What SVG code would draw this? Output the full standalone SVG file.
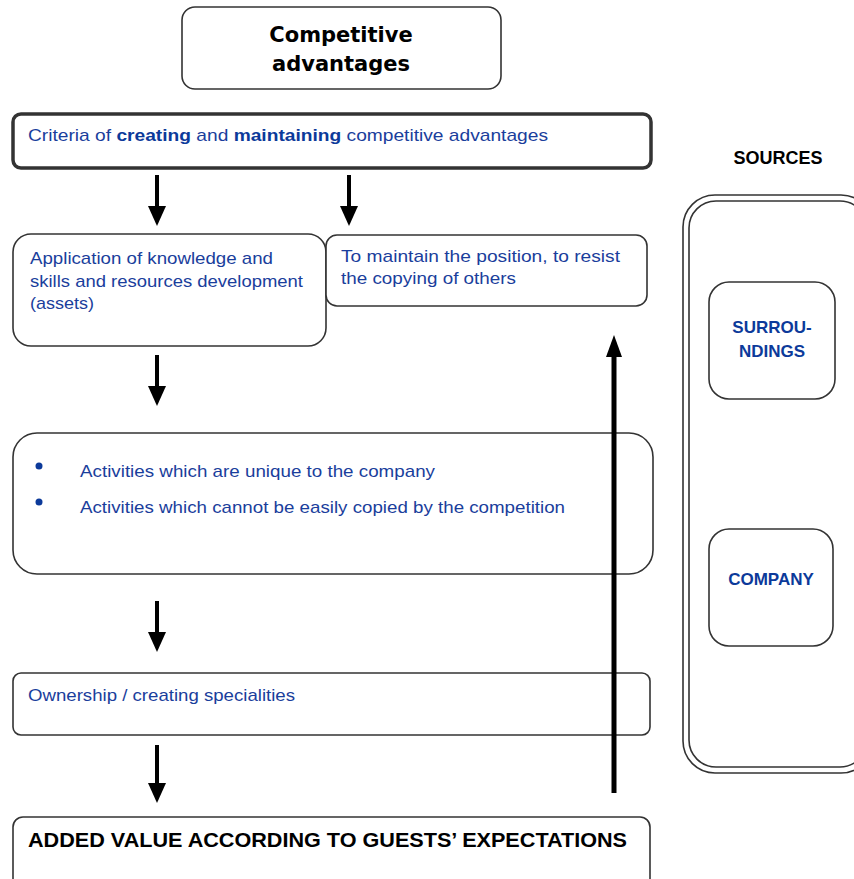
<svg xmlns="http://www.w3.org/2000/svg" width="854" height="879" viewBox="0 0 854 879">
<defs>
<style>
.box{fill:#fff;stroke:#333;stroke-width:1.6}
.blue{font-family:"Liberation Sans",Arial,sans-serif;font-size:17px;fill:#1a3e9c}
.bluebold{font-family:"Liberation Sans",Arial,sans-serif;font-size:17px;font-weight:bold;fill:#0c3a9a}
.title{font-family:"DejaVu Sans",Verdana,sans-serif;font-size:21px;font-weight:bold;fill:#000}
.blk{font-family:"Liberation Sans",Arial,sans-serif;font-weight:bold;fill:#000}
.arrow{stroke:#000;stroke-width:4;fill:none}
</style>
<marker id="ah" markerUnits="userSpaceOnUse" markerWidth="20" markerHeight="22" refX="0" refY="9" orient="auto" viewBox="0 0 20 18">
<path d="M0,0 L20,9 L0,18 Z" fill="#000"/>
</marker>
<marker id="ahUp" markerUnits="userSpaceOnUse" markerWidth="22" markerHeight="18" refX="0" refY="8" orient="auto" viewBox="0 0 22 16">
<path d="M0,0 L22,8 L0,16 Z" fill="#000"/>
</marker>
</defs>
<rect width="854" height="879" fill="#fff"/>

<g id="competitive-advantages">
<rect class="box" x="182" y="7" width="319" height="82" rx="13"/>
<text class="title" x="341" y="42" text-anchor="middle">Competitive</text>
<text class="title" x="341" y="71" text-anchor="middle">advantages</text>
</g>

<g id="criteria">
<rect x="13" y="114" width="638" height="54" rx="8" fill="#fff" stroke="#333" stroke-width="3.5"/>
<text class="blue" x="28" y="141" textLength="520" lengthAdjust="spacingAndGlyphs">Criteria of <tspan class="bluebold">creating</tspan> and <tspan class="bluebold">maintaining</tspan> competitive advantages</text>
</g>

<g id="application">
<rect class="box" x="13" y="234" width="313" height="112" rx="18"/>
<text class="blue" x="30" y="264" textLength="243" lengthAdjust="spacingAndGlyphs">Application of knowledge and</text>
<text class="blue" x="30" y="287" textLength="273" lengthAdjust="spacingAndGlyphs">skills and resources development</text>
<text class="blue" x="30" y="309" textLength="64" lengthAdjust="spacingAndGlyphs">(assets)</text>
</g>

<g id="maintain">
<rect class="box" x="326" y="235" width="321" height="71" rx="11"/>
<text class="blue" x="341" y="262" textLength="279" lengthAdjust="spacingAndGlyphs">To maintain the position, to resist</text>
<text class="blue" x="341" y="284" textLength="175" lengthAdjust="spacingAndGlyphs">the copying of others</text>
</g>

<g id="activities">
<rect class="box" x="13" y="433" width="640" height="141" rx="24"/>
<circle cx="39" cy="466" r="3.5" fill="#0c3a9a"/>
<circle cx="39" cy="502" r="3.5" fill="#0c3a9a"/>
<text class="blue" x="80" y="477" textLength="355" lengthAdjust="spacingAndGlyphs">Activities which are unique to the company</text>
<text class="blue" x="80" y="513" textLength="485" lengthAdjust="spacingAndGlyphs">Activities which cannot be easily copied by the competition</text>
</g>

<g id="ownership">
<rect class="box" x="13" y="673" width="637" height="62" rx="8"/>
<text class="blue" x="28" y="701" textLength="267" lengthAdjust="spacingAndGlyphs">Ownership / creating specialities</text>
</g>

<g id="added-value">
<rect class="box" x="13" y="817" width="637" height="75" rx="10"/>
<text class="blk" x="28" y="847" font-size="19.5" textLength="599" lengthAdjust="spacingAndGlyphs">ADDED VALUE ACCORDING TO GUESTS’ EXPECTATIONS</text>
</g>

<g id="sources">
<text class="blk" x="778" y="164" font-size="18" text-anchor="middle">SOURCES</text>
<rect x="683" y="195" width="190" height="578" rx="32" fill="#fff" stroke="#333" stroke-width="1.6"/>
<rect x="689" y="201" width="178" height="566" rx="27" fill="none" stroke="#333" stroke-width="1.6"/>
</g>

<g id="surroundings">
<rect class="box" x="709" y="282" width="126" height="117" rx="20"/>
<text class="bluebold" x="772" y="333" font-size="16" text-anchor="middle">SURROU-</text>
<text class="bluebold" x="772" y="357" font-size="16" text-anchor="middle">NDINGS</text>
</g>

<g id="company">
<rect class="box" x="709" y="529" width="124" height="117" rx="20"/>
<text class="bluebold" x="771" y="585" font-size="16" text-anchor="middle">COMPANY</text>
</g>

<g id="connectors">
<line class="arrow" x1="157" y1="175" x2="157" y2="206" marker-end="url(#ah)"/>
<line class="arrow" x1="349" y1="175" x2="349" y2="206" marker-end="url(#ah)"/>
<line class="arrow" x1="157" y1="355" x2="157" y2="386" marker-end="url(#ah)"/>
<line class="arrow" x1="157" y1="601" x2="157" y2="632" marker-end="url(#ah)"/>
<line class="arrow" x1="157" y1="745" x2="157" y2="783" marker-end="url(#ah)"/>
<line x1="614" y1="793" x2="614" y2="357" stroke="#000" stroke-width="5" marker-end="url(#ahUp)"/>
</g>
</svg>
